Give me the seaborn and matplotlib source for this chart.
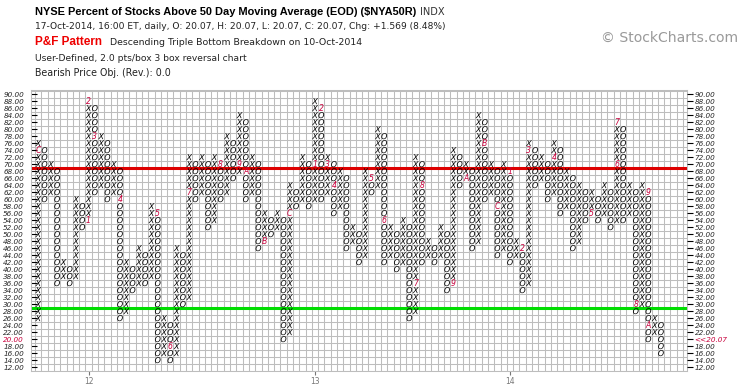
import matplotlib
matplotlib.use("Agg")
import matplotlib.pyplot as plt
import numpy as np
import pandas as pd
import seaborn as sns

# ---------------- data ----------------
# Point & Figure columns (even index = X column, odd index = O column)
col_low = [26, 60, 62, 36, 38, 36, 38, 52, 54, 62,
           64, 60, 62, 26, 28, 34, 36, 36, 38, 14,
           16, 14, 16, 30, 32, 60, 62, 52, 54, 60,
           62, 66, 68, 60, 62, 46, 48, 50, 52, 20,
           22, 58, 60, 58, 60, 60, 62, 56, 58, 46,
           48, 42, 44, 62, 64, 42, 44, 40, 42, 26,
           28, 42, 44, 42, 44, 34, 36, 64, 66, 46,
           48, 60, 62, 44, 46, 42, 44, 34, 36, 64,
           66, 60, 62, 56, 58, 46, 48, 54, 56, 54,
           56, 52, 54, 54, 56, 28, 30, 20, 22, 16]
col_high = [76, 74, 70, 68, 42, 40, 60, 58, 88, 86,
            78, 76, 70, 68, 42, 40, 46, 44, 58, 56,
            26, 24, 46, 44, 72, 70, 72, 70, 72, 70,
            78, 76, 84, 82, 72, 70, 56, 54, 56, 54,
            64, 62, 72, 70, 88, 86, 72, 70, 68, 66,
            52, 50, 68, 66, 80, 78, 52, 50, 54, 52,
            72, 70, 48, 46, 52, 50, 74, 72, 70, 68,
            84, 82, 70, 68, 70, 68, 48, 46, 76, 74,
            72, 70, 76, 74, 68, 66, 64, 62, 62, 60,
            64, 62, 82, 80, 64, 62, 64, 62, 26, 24]

# month markers (column, box value, label)
mark_col = [0, 8, 8, 9, 13, 19, 21, 24, 29, 32, 33, 36, 40,
            44, 45, 46, 47, 53, 55, 60, 61, 66, 68, 71, 73,
            75, 77, 78, 82, 88, 92, 92, 95, 97, 97]
mark_val = [74, 54, 88, 78, 60, 56, 18, 62, 70, 70, 68, 48, 56,
            70, 86, 70, 64, 66, 54, 36, 64, 36, 66, 76, 58,
            68, 46, 74, 72, 56, 70, 82, 30, 62, 24]
mark_txt = ["C", "1", "2", "3", "4", "5", "6", "7", "8", "9", "A", "B", "C",
            "1", "2", "3", "4", "5", "6", "7", "8", "9", "A", "B", "C",
            "1", "2", "3", "4", "5", "6", "7", "8", "9", "A"]

y_levels = list(range(90, 10, -2))
x_tick_cols = [8, 44, 75]
x_tick_labels = ["12", "13", "14"]
resistance_level = 69
support_level = 29
last_close = 20.07

# ---------------- build glyph table ----------------
marks = {(c, v) for c, v in zip(mark_col, mark_val)}
rows = []
for i, (lo, hi) in enumerate(zip(col_low, col_high)):
    kind = "X" if i % 2 == 0 else "O"
    for v in range(lo, hi + 1, 2):
        if (i, v) not in marks:
            rows.append({"col": i, "value": v, "kind": kind})
boxes = pd.DataFrame(rows)

# ---------------- figure ----------------
W, H = 745, 391
sns.set_theme(style="white")
plt.rcParams["font.family"] = ["DejaVu Sans"]
fig = plt.figure(figsize=(W / 100, H / 100), dpi=100)

L, R, T, B = 31, 687, 90, 371
ax = fig.add_axes([L / W, 1 - B / H, (R - L) / W, (B - T) / H])
x0 = -1.15
x1 = x0 + (R - L) / 6.29
ax.set_xlim(x0, x1)
ax.set_ylim(10.9, 91.2)

# grid
for gx in np.arange(-1.5, 104, 1.0):
    ax.axvline(gx, color="#bdbdbd", lw=0.75, zorder=0)
for gy in range(11, 93, 2):
    ax.axhline(gy, color="#bdbdbd", lw=0.75, zorder=0)

ax.axhline(resistance_level, color="#dd0000", lw=2.2, zorder=1)
ax.axhline(support_level, color="#00dd00", lw=2.2, zorder=1)

sns.scatterplot(data=boxes, x="col", y="value", style="kind",
                markers={"X": r"$\mathit{X}$", "O": r"$\mathit{O}$"},
                color="black", s=19, linewidth=0, legend=False, ax=ax, zorder=3)

for c, v, t in zip(mark_col, mark_val, mark_txt):
    ax.text(c, v, t, color="#c8003c", fontsize=5.6, fontstyle="italic",
            ha="center", va="center", zorder=4)

ax.set_xlabel("")
ax.set_ylabel("")
for s in ax.spines.values():
    s.set_color("#bdbdbd")
    s.set_linewidth(0.75)

# y ticks left
ax.set_yticks(y_levels)
ax.set_yticklabels([f"{v:.2f}" for v in y_levels], fontsize=5.2, fontstyle="italic")
ax.tick_params(axis="y", which="major", direction="in", length=4, width=0.8,
               color="black", pad=5, left=True)
for lab, v in zip(ax.get_yticklabels(), y_levels):
    if v == 20:
        lab.set_color("#c8003c")

# x ticks
ax.set_xticks(x_tick_cols)
ax.set_xticklabels(x_tick_labels, fontsize=5.5, color="#777777")
ax.tick_params(axis="x", direction="out", length=3, width=0.8, color="#777777",
               pad=1.5, bottom=True)

# y ticks right
ax2 = ax.twinx()
ax2.set_ylim(ax.get_ylim())
ax2.set_yticks(y_levels)
rlabels = [f"<<{last_close:.2f}" if v == 20 else f"{v:.2f}" for v in y_levels]
ax2.set_yticklabels(rlabels, fontsize=5.2, fontstyle="italic")
ax2.tick_params(axis="y", direction="out", length=4, width=0.8, color="black", pad=1.5)
for lab, v in zip(ax2.get_yticklabels(), y_levels):
    if v == 20:
        lab.set_color("#c8003c")
for s in ax2.spines.values():
    s.set_visible(False)
ax2.grid(False)
ax.grid(False)

# ---------------- header texts ----------------
texts = []


def put(x, y, s, width=None, **kw):
    t = fig.text(x / W, 1 - y / H, s, ha="left", va="baseline", **kw)
    texts.append((t, width))
    return t


put(35, 15, "NYSE Percent of Stocks Above 50 Day Moving Average (EOD) ($NYA50R)",
    width=380, fontsize=9, fontweight="bold", family=["Liberation Sans"], color="black")
put(420, 15, "INDX", width=25, fontsize=6, color="#333333")
put(35, 29, "17-Oct-2014, 16:00 ET, daily, O: 20.07, H: 20.07, L: 20.07, C: 20.07, Chg: +1.569 (8.48%)",
    width=412, fontsize=7, color="#222222")
put(35, 45, "P&F Pattern", width=67, fontsize=9, fontweight="bold",
    family=["Liberation Sans"], color="#ee0000")
put(110, 45, "Descending Triple Bottom Breakdown on 10-Oct-2014", width=254, fontsize=7,
    color="#222222")
put(35, 61, "User-Defined, 2.0 pts/box 3 box reversal chart", width=212, fontsize=7,
    color="#222222")
put(35, 76, "Bearish Price Obj. (Rev.): 0.0", width=137, fontsize=7, color="#222222")
put(601, 42, "\u00a9 StockCharts.com", width=138, fontsize=9, color="#9a9a9a")

fig.canvas.draw()
rend = fig.canvas.get_renderer()
for t, w in texts:
    if w:
        bb = t.get_window_extent(renderer=rend)
        t.set_fontsize(t.get_fontsize() * w / bb.width)

fig.savefig("out.png", dpi=100)
